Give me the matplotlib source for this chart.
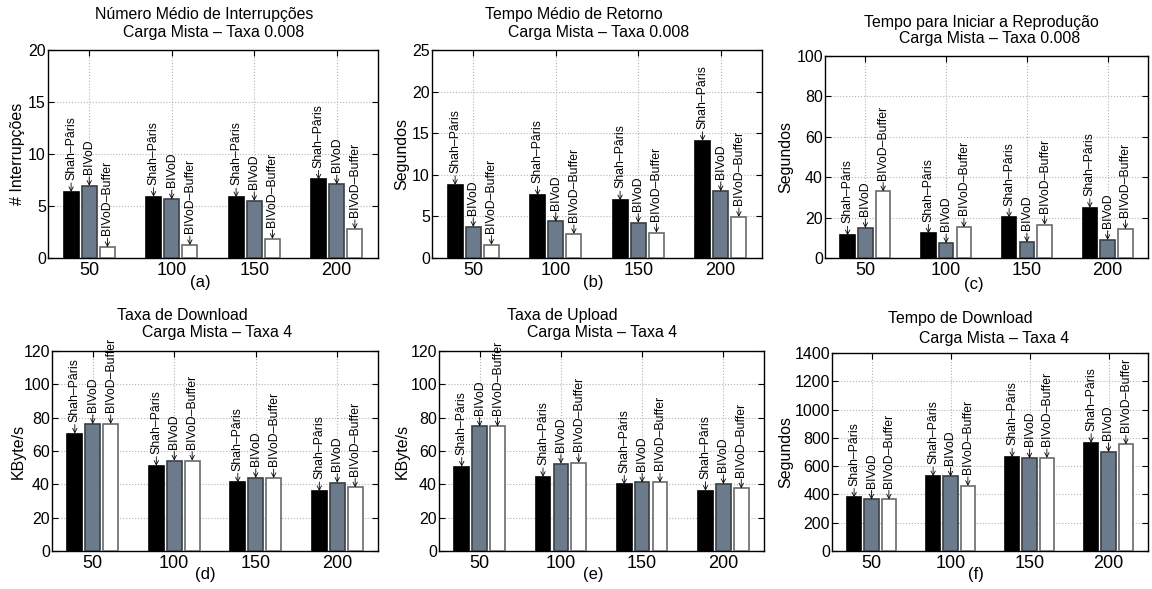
import matplotlib.pyplot as plt
import numpy as np

plt.rcParams['font.family'] = ['Liberation Sans', 'DejaVu Sans']

# dados
grupos = ['50', '100', '150', '200']
series = ['Shah–Pâris', 'BIVoD', 'BIVoD–Buffer']

interrupcoes = [[6.35, 5.9, 5.85, 7.55],
                [6.95, 5.65, 5.5, 7.1],
                [1.05, 1.25, 1.85, 2.8]]
retorno = [[8.8, 7.55, 6.95, 14.1],
           [3.75, 4.4, 4.25, 8.05],
           [1.6, 2.9, 3.05, 4.95]]
inicio = [[11.3, 12.2, 20.1, 24.9],
          [14.9, 7.4, 7.9, 9.0],
          [33.0, 15.2, 16.5, 14.4]]
taxa_down = [[70.5, 51.2, 41.2, 36.0],
             [76.3, 54.3, 43.9, 41.0],
             [76.3, 54.3, 43.8, 38.2]]
taxa_up = [[50.7, 44.5, 40.0, 36.2],
           [74.8, 52.5, 41.2, 40.2],
           [74.8, 53.0, 41.3, 37.6]]
tempo_down = [[379, 529, 663, 765],
              [365, 527, 656, 701],
              [365, 461, 659, 755]]

cores = ['black', '#6c7b8b', 'white']
bordas = ['black', '#3a3f45', '#6a6a6a']

W, H = 1152, 589
fig = plt.figure(figsize=(W / 100, H / 100), dpi=100)


def px_text(x, y, s, size):
    fig.text(x / W, 1 - y / H, s, ha='center', va='center', fontsize=size)


def painel(caixa, vals, ymax, passo, ylabel, ylab_x, t1, t2, p1, p2, sub, psub):
    l, t, r, b = caixa
    ax = fig.add_axes([l / W, 1 - b / H, (r - l) / W, (b - t) / H])
    x = np.arange(1, len(grupos) + 1)
    desloc = [-0.22, 0.0, 0.22]
    for k in range(len(series)):
        ax.bar(x + desloc[k], vals[k], width=0.18, color=cores[k],
               edgecolor=bordas[k], linewidth=1.2, zorder=3)
        for xi, v in zip(x + desloc[k], vals[k]):
            ax.annotate(series[k], xy=(xi, v), xytext=(0, 8.5),
                        textcoords='offset points', rotation=90,
                        ha='center', va='bottom', fontsize=8.8, zorder=4,
                        arrowprops=dict(arrowstyle='->,head_length=0.35,head_width=0.18',
                                        lw=0.6, color='black',
                                        shrinkA=0, shrinkB=0))
    ax.set_xlim(0.5, 4.5)
    ax.set_ylim(0, ymax)
    ax.set_xticks(x)
    ax.set_xticklabels(grupos)
    ax.set_yticks(np.arange(0, ymax + 1e-9, passo))
    ax.set_ylabel(ylabel, fontsize=11.5, va='center')
    ax.yaxis.set_label_coords((ylab_x - l) / (r - l), 0.5)
    ax.grid(True, ls=':', color='#b4b4b4', lw=0.8)
    ax.set_axisbelow(True)
    ax.tick_params(direction='in', top=True, right=True, length=4)
    ax.tick_params(axis='x', labelsize=13, pad=3)
    ax.tick_params(axis='y', labelsize=11.5, pad=1.5)
    for s in ax.spines.values():
        s.set_linewidth(1.0)
    px_text(p1[0], p1[1], t1, 11.4)
    px_text(p2[0], p2[1], t2, 11.4)
    px_text(psub[0], psub[1], sub, 12)


painel((48, 50, 378, 258), interrupcoes, 20, 5, '# Interrupções', 18,
       'Número Médio de Interrupções', 'Carga Mista – Taxa 0.008',
       (204, 15), (214, 33), '(a)', (200, 283))
painel((432, 50, 762, 258), retorno, 25, 5, 'Segundos', 402,
       'Tempo Médio de Retorno', 'Carga Mista – Taxa 0.008',
       (574, 15), (599, 33), '(b)', (593, 283))
painel((825, 56, 1148, 258), inicio, 100, 20, 'Segundos', 786,
       'Tempo para Iniciar a Reprodução', 'Carga Mista – Taxa 0.008',
       (981, 22), (990, 39), '(c)', (974, 284))
painel((52, 351, 378, 551), taxa_down, 120, 20, 'KByte/s', 18,
       'Taxa de Download', 'Carga Mista – Taxa 4',
       (182, 315), (217, 333), '(d)', (205, 575))
painel((439, 351, 764, 551), taxa_up, 120, 20, 'KByte/s', 402,
       'Taxa de Upload', 'Carga Mista – Taxa 4',
       (562, 315), (602, 333), '(e)', (593, 575))
painel((832, 353, 1148, 551), tempo_down, 1400, 200, 'Segundos', 786,
       'Tempo de Download', 'Carga Mista – Taxa 4',
       (960, 318), (994, 338), '(f)', (976, 575))

fig.savefig('out.png', dpi=100)
